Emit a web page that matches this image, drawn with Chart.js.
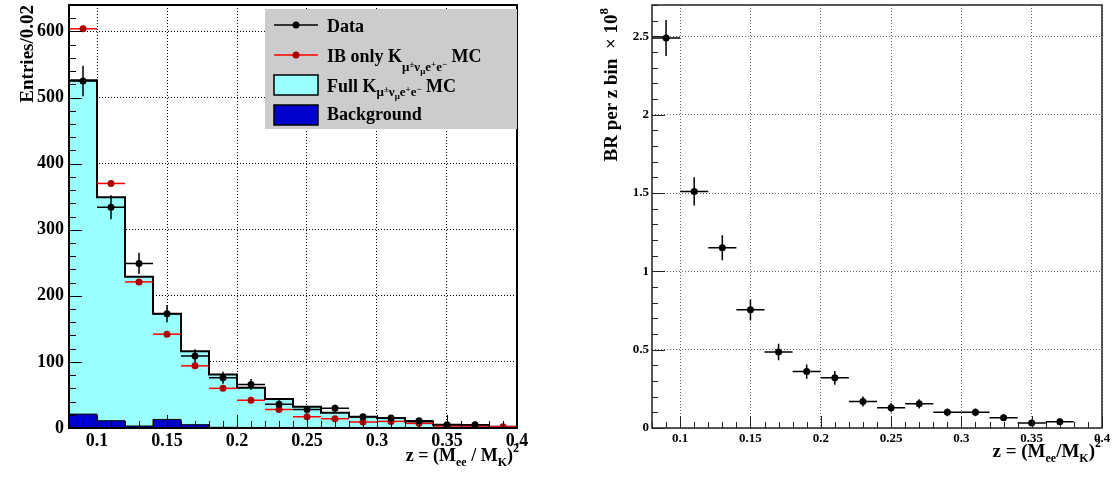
<!DOCTYPE html>
<html>
<head>
<meta charset="utf-8">
<script src="https://cdn.jsdelivr.net/npm/chart.js@4.4.0/dist/chart.umd.min.js"></script>
<style>
    body { margin: 0; background: #fff; width: 1112px; height: 477px; overflow: hidden; position: relative; }
    .panel { position: absolute; top: 0; width: 556px; height: 477px; }
</style>
</head>
<body>
<div class="panel" style="left:0"><canvas id="leftChart" width="556" height="477"></canvas></div>
<div class="panel" style="left:556px"><canvas id="rightChart" width="556" height="477"></canvas></div>
<script>
// left panel: z spectrum, bins of 0.02
const binEdges = [0.08, 0.10, 0.12, 0.14, 0.16, 0.18, 0.20, 0.22, 0.24, 0.26, 0.28, 0.30, 0.32, 0.34, 0.36, 0.38, 0.40];
const binCenters = [0.09, 0.11, 0.13, 0.15, 0.17, 0.19, 0.21, 0.23, 0.25, 0.27, 0.29, 0.31, 0.33, 0.35, 0.37, 0.39];
const fullMC = [526, 349, 229, 173, 116, 81, 61, 44, 32, 23, 17, 15, 10, 5, 4, 2];
const background = [21, 11, 3, 13, 5, 1, 0, 0, 0, 0, 0, 0, 0, 0, 0, 0];
const ibOnly = [604, 370, 221, 142, 94, 60, 42, 28, 17, 14, 9, 10, 7, 3, 3, 2];
const dataCounts = [525, 334, 249, 173, 109, 76, 66, 36, 28, 30, 17, 15, 11, 5, 5];
const dataErrors = [23, 18, 16, 13, 10, 9, 8, 6, 5, 5, 4, 4, 3, 2, 2];

const leftXTicks = [0.1, 0.15, 0.2, 0.25, 0.3, 0.35, 0.4];
const leftXLabels = ['0.1', '0.15', '0.2', '0.25', '0.3', '0.35', '0.4'];
const leftYTicks = [0, 100, 200, 300, 400, 500, 600];
const leftYLabels = ['0', '100', '200', '300', '400', '500', '600'];

// right panel: BR per z bin (x 1e8)
const brCenters = [0.09, 0.11, 0.13, 0.15, 0.17, 0.19, 0.21, 0.23, 0.25, 0.27, 0.29, 0.31, 0.33, 0.35, 0.37];
const brValues = [2.49, 1.51, 1.15, 0.755, 0.485, 0.36, 0.32, 0.169, 0.13, 0.154, 0.10, 0.10, 0.066, 0.032, 0.04];
const brErrors = [0.115, 0.09, 0.08, 0.065, 0.053, 0.045, 0.044, 0.032, 0.03, 0.03, 0.025, 0.025, 0.022, 0.02, 0.02];

const rightXTicks = [0.1, 0.15, 0.2, 0.25, 0.3, 0.35, 0.4];
const rightXLabels = ['0.1', '0.15', '0.2', '0.25', '0.3', '0.35', '0.4'];
const rightYTicks = [0, 0.5, 1, 1.5, 2, 2.5];
const rightYLabels = ['0', '0.5', '1', '1.5', '2', '2.5'];

const SERIF = '"Liberation Serif", "DejaVu Serif", serif';

function drawRich(ctx, x, y, parts, align) {
    let w = 0;
    parts.forEach(([t, s]) => { ctx.font = `bold ${s}px ${SERIF}`; w += ctx.measureText(t).width; });
    let cx = align === 'right' ? x - w : x;
    ctx.textAlign = 'left';
    ctx.textBaseline = 'alphabetic';
    parts.forEach(([t, s, dy]) => {
        ctx.font = `bold ${s}px ${SERIF}`;
        ctx.fillText(t, cx, y + (dy || 0));
        cx += ctx.measureText(t).width;
    });
}

const kSub = (dy) => [
    ['\u03bc', 13, dy], ['\u00b1', 9, dy - 4], ['\u03bd', 13, dy], ['\u03bc', 9, dy + 3],
    ['e', 13, dy], ['+', 9, dy - 4], ['e', 13, dy], ['\u2212', 9, dy - 4]
];

const errorBars = {
    id: 'errorBars',
    beforeDatasetDraw(chart, args) {
        const ds = chart.data.datasets[args.index];
        if (!ds.xHalf) return;
        const { ctx, scales: { x, y } } = chart;
        ctx.save();
        ctx.strokeStyle = ds.barColor;
        ctx.lineWidth = 1.5;
        ds.data.forEach((p, i) => {
            const px = x.getPixelForValue(p.x);
            const py = y.getPixelForValue(p.y);
            ctx.beginPath();
            ctx.moveTo(x.getPixelForValue(p.x - ds.xHalf), py);
            ctx.lineTo(x.getPixelForValue(p.x + ds.xHalf), py);
            if (ds.yErr) {
                ctx.moveTo(px, y.getPixelForValue(p.y - ds.yErr[i]));
                ctx.lineTo(px, y.getPixelForValue(p.y + ds.yErr[i]));
            }
            ctx.stroke();
        });
        ctx.restore();
    }
};

// ROOT-like frame with inner ticks, plus titles/legend drawn by extra()
function makeFrame(cfg, extra) {
    return {
        id: 'rootFrame',
        afterDraw(chart) {
            const { ctx, chartArea: a, scales: { x, y } } = chart;
            ctx.save();
            ctx.strokeStyle = cfg.color;
            ctx.lineWidth = 1;
            ctx.beginPath();
            for (let k = 0; ; k++) {
                const v = cfg.xFrom + k * cfg.xMinor;
                if (v > x.max + 1e-9) break;
                const r = v / cfg.xMajor;
                const len = Math.abs(r - Math.round(r)) < 1e-6 ? cfg.xMajorLen : cfg.xMinorLen;
                const px = Math.round(x.getPixelForValue(v)) + 0.5;
                ctx.moveTo(px, a.bottom);
                ctx.lineTo(px, a.bottom - len);
            }
            for (let k = 0; ; k++) {
                const v = k * cfg.yMinor;
                if (v > y.max + 1e-9) break;
                const r = v / cfg.yMajor;
                const len = Math.abs(r - Math.round(r)) < 1e-6 ? cfg.yMajorLen : cfg.yMinorLen;
                const py = Math.round(y.getPixelForValue(v)) + 0.5;
                ctx.moveTo(a.left, py);
                ctx.lineTo(a.left + len, py);
            }
            ctx.stroke();
            ctx.lineWidth = cfg.frameWidth;
            ctx.strokeRect(a.left, a.top, a.right - a.left, a.bottom - a.top);
            ctx.fillStyle = '#000';
            extra(ctx, a);
            ctx.restore();
        }
    };
}

function gridScale(min, max, ticks, labels, size, pad, fitFn, gridColor) {
    return {
        type: 'linear', min: min, max: max,
        afterBuildTicks: s => { s.ticks = ticks.map(v => ({ value: v })); },
        afterFit: s => {
            fitFn(s);
            s.paddingTop = 0; s.paddingBottom = 0; s.paddingLeft = 0; s.paddingRight = 0;
        },
        grid: { color: gridColor, lineWidth: 1, drawTicks: false },
        border: { display: false, dash: [1, 2] },
        ticks: {
            color: '#000', padding: pad, autoSkip: false, maxRotation: 0,
            font: { family: SERIF, size: size, weight: 'bold' },
            callback: (v, i) => labels[i]
        }
    };
}

const stepPoints = vals => binEdges.map((e, i) => ({ x: e, y: vals[Math.min(i, vals.length - 1)] }));

function renderLeft() {
    const leftExtras = (ctx, a) => {
        // axis titles
        ctx.save();
        ctx.translate(33, 5);
        ctx.rotate(-Math.PI / 2);
        drawRich(ctx, 0, 0, [['Entries/0.02', 19, 0]], 'right');
        ctx.restore();
        drawRich(ctx, 519, 461, [
            ['z = (M', 18, 0], ['ee', 12, 5], [' / M', 18, 0], ['K', 12, 5], [')', 18, 0], ['2', 12, -9]
        ], 'right');

        // legend
        ctx.fillStyle = '#cccccc';
        ctx.fillRect(265, 9, 252, 120);
        ctx.lineWidth = 1.5;
        ctx.strokeStyle = '#000';
        ctx.beginPath(); ctx.moveTo(274, 25); ctx.lineTo(318, 25); ctx.stroke();
        ctx.fillStyle = '#000';
        ctx.beginPath(); ctx.arc(296, 25, 3.5, 0, Math.PI * 2); ctx.fill();
        ctx.strokeStyle = '#ff0000';
        ctx.beginPath(); ctx.moveTo(274, 55); ctx.lineTo(318, 55); ctx.stroke();
        ctx.fillStyle = '#aa0000';
        ctx.beginPath(); ctx.arc(296, 55, 3.5, 0, Math.PI * 2); ctx.fill();
        ctx.lineWidth = 1.5;
        ctx.strokeStyle = '#000';
        ctx.fillStyle = '#99ffff';
        ctx.fillRect(274, 75, 44, 20); ctx.strokeRect(274, 75, 44, 20);
        ctx.fillStyle = '#0000cc';
        ctx.fillRect(274, 105, 44, 20); ctx.strokeRect(274, 105, 44, 20);

        ctx.fillStyle = '#000';
        drawRich(ctx, 327, 32, [['Data', 18, 0]]);
        drawRich(ctx, 327, 62, [['IB only K', 18, 0], ...kSub(9), [' MC', 18, 0]]);
        drawRich(ctx, 327, 92, [['Full K', 18, 0], ...kSub(4), [' MC', 18, 0]]);
        drawRich(ctx, 327, 120, [['Background', 18, 0]]);
    };

    new Chart(document.getElementById('leftChart'), {
        type: 'line',
        data: {
            datasets: [
                {
                    label: 'Data',
                    data: dataCounts.map((v, i) => ({ x: binCenters[i], y: v })),
                    showLine: false, pointRadius: 3.5, pointBorderWidth: 0,
                    pointBackgroundColor: '#000', pointBorderColor: '#000',
                    xHalf: 0.01, yErr: dataErrors, barColor: '#000'
                },
                {
                    label: 'IB only',
                    data: ibOnly.map((v, i) => ({ x: binCenters[i], y: v })),
                    showLine: false, pointRadius: 3.5, pointBorderWidth: 0,
                    pointBackgroundColor: '#aa0000', pointBorderColor: '#aa0000',
                    xHalf: 0.01, barColor: '#ff0000'
                },
                {
                    label: 'Background',
                    data: stepPoints(background),
                    stepped: 'before', fill: 'origin', pointRadius: 0,
                    backgroundColor: '#0000cc', borderColor: '#000', borderWidth: 1
                },
                {
                    label: 'Full MC',
                    data: stepPoints(fullMC),
                    stepped: 'before', fill: 'origin', pointRadius: 0,
                    backgroundColor: '#99ffff', borderColor: '#000', borderWidth: 2
                }
            ]
        },
        options: {
            responsive: false, animation: false, events: [],
            layout: { padding: { left: 0, top: 5, right: 39, bottom: 0 } },
            plugins: { legend: { display: false }, tooltip: { enabled: false } },
            scales: {
                x: gridScale(0.08, 0.4, leftXTicks, leftXLabels, 18, 3, s => { s.height = 49; }, '#000'),
                y: gridScale(0, 640, leftYTicks, leftYLabels, 18, 5, s => { s.width = 69; }, '#000')
            }
        },
        plugins: [errorBars, makeFrame({
            color: '#000', frameWidth: 2,
            xFrom: 0.08, xMinor: 0.01, xMajor: 0.05, xMajorLen: 13, xMinorLen: 7,
            yMinor: 20, yMajor: 100, yMajorLen: 13, yMinorLen: 7
        }, leftExtras)]
    });
}

function renderRight() {
    const rightExtras = (ctx) => {
        ctx.save();
        ctx.translate(617 - 556, 8);
        ctx.rotate(-Math.PI / 2);
        drawRich(ctx, 0, 0, [['BR per z bin  \u00d7 10', 19, 0], ['8', 13, -9]], 'right');
        ctx.restore();
        drawRich(ctx, 1101 - 556, 457, [
            ['z = (M', 19, 0], ['ee', 12, 5], ['/M', 19, 0], ['K', 12, 5], [')', 19, 0], ['2', 12, -10]
        ], 'right');
    };

    new Chart(document.getElementById('rightChart'), {
        type: 'line',
        data: {
            datasets: [{
                label: 'BR',
                data: brValues.map((v, i) => ({ x: brCenters[i], y: v })),
                showLine: false, pointRadius: 3.5, pointBorderWidth: 0,
                pointBackgroundColor: '#000', pointBorderColor: '#000',
                xHalf: 0.01, yErr: brErrors, barColor: '#000'
            }]
        },
        options: {
            responsive: false, animation: false, events: [],
            layout: { padding: { left: 0, top: 5, right: 10, bottom: 0 } },
            plugins: { legend: { display: false }, tooltip: { enabled: false } },
            scales: {
                x: gridScale(0.08, 0.4, rightXTicks, rightXLabels, 13, 3, s => { s.height = 49; }, '#666'),
                y: gridScale(0, 2.7, rightYTicks, rightYLabels, 13, 3, s => { s.width = 96; }, '#666')
            }
        },
        plugins: [errorBars, makeFrame({
            color: '#222', frameWidth: 1.5,
            xFrom: 0.08, xMinor: 0.01, xMajor: 0.05, xMajorLen: 12, xMinorLen: 6,
            yMinor: 0.1, yMajor: 0.5, yMajorLen: 13, yMinorLen: 6
        }, rightExtras)]
    });
}

renderLeft();
renderRight();
</script>
</body>
</html>
